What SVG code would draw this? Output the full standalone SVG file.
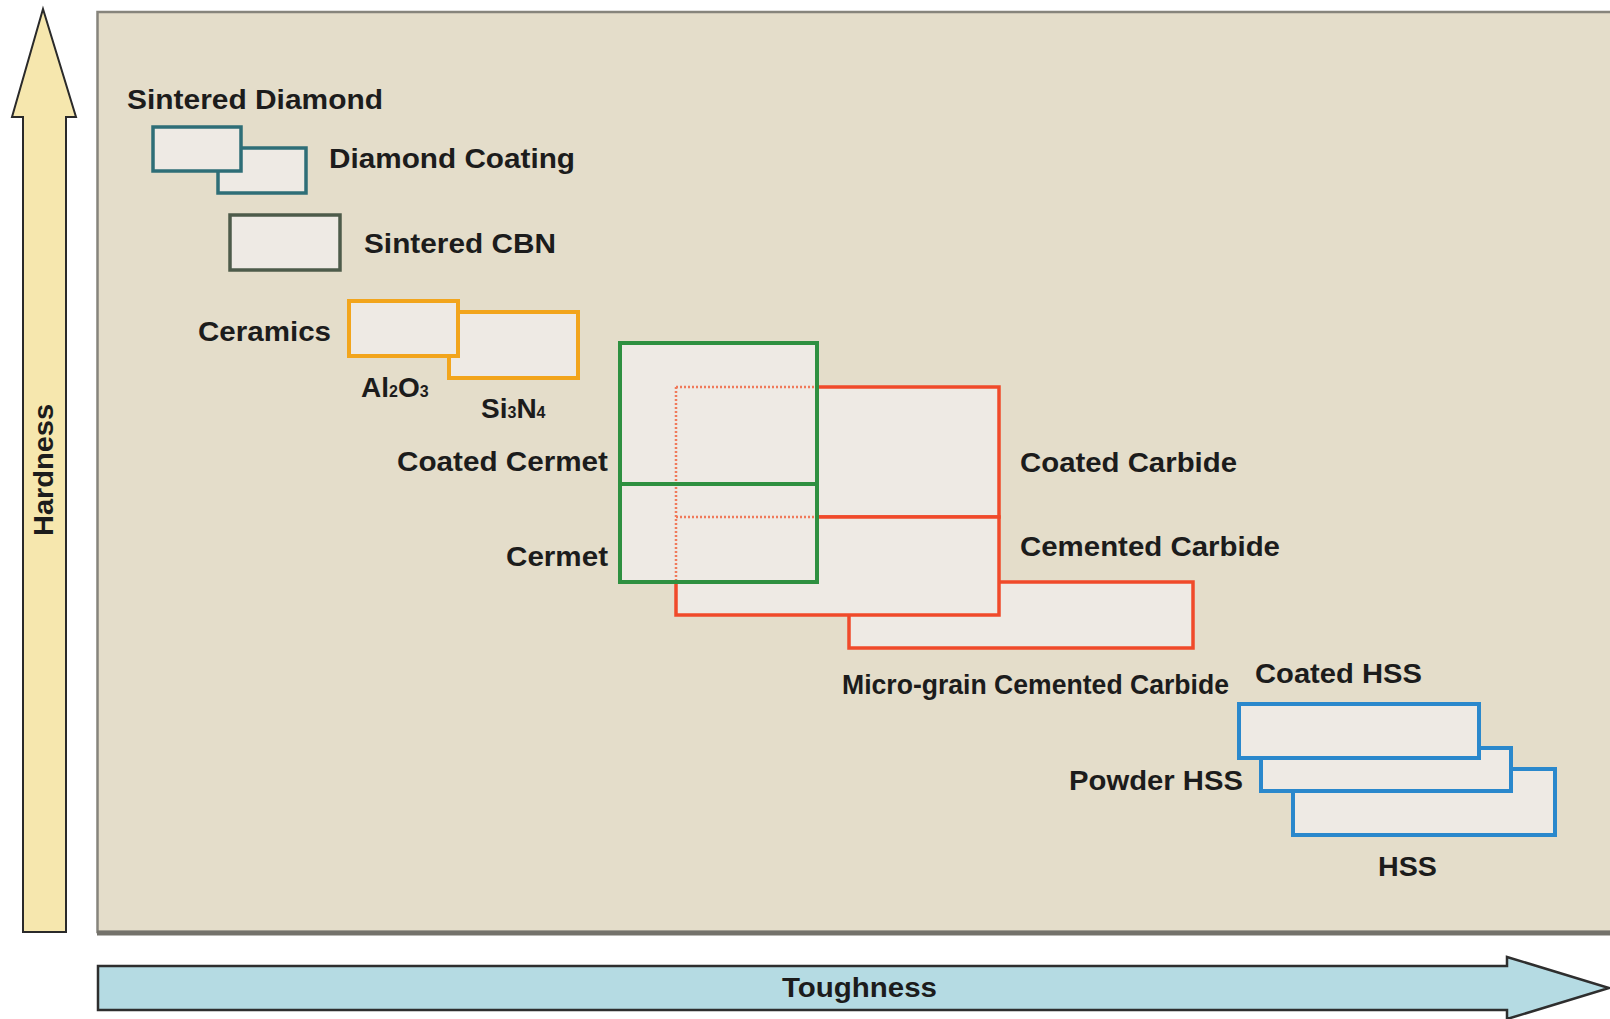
<svg xmlns="http://www.w3.org/2000/svg" width="1610" height="1019" viewBox="0 0 1610 1019">
<style>
  .t { font-family: "Liberation Sans", Arial, sans-serif; font-weight: bold; font-size: 28px; fill: #1c1c1c; }
  .sub { font-size: 16px; }
  .box { fill: #eeeae4; }
  .teal { stroke: #2e6e77; stroke-width: 3.5; }
  .cbn { stroke: #4d5b4a; stroke-width: 3.5; }
  .orange { stroke: #f2a51c; stroke-width: 4; }
  .green { stroke: #2e9040; stroke-width: 4; }
  .red { stroke: #f04a2a; stroke-width: 3.5; }
  .blue { stroke: #2a88cc; stroke-width: 4; }
  .dot { stroke: #f07a5a; stroke-width: 2.5; stroke-dasharray: 2 2; fill: none; }
</style>
<rect x="0" y="0" width="1610" height="1019" fill="#ffffff"/>

<g id="panel">
  <rect x="97.5" y="12" width="1530" height="920" fill="#e4ddca" stroke="#86847c" stroke-width="2.5"/>
  <line x1="97" y1="933" x2="1610" y2="933" stroke="#74726b" stroke-width="5"/>
</g>

<g id="axes">
  <g id="hardness-axis">
    <polygon points="43,9 76,117 66,117 66,932 23,932 23,117 12,117" fill="#f6e7ae" stroke="#2a2a2a" stroke-width="2" stroke-linejoin="miter"/>
    <text class="t" x="53" y="470" text-anchor="middle" textLength="132" lengthAdjust="spacingAndGlyphs" transform="rotate(-90 53 470)">Hardness</text>
  </g>
  <g id="toughness-axis">
    <polygon points="98,966 1507,966 1507,957 1609,988 1507,1019 1507,1010 98,1010" fill="#b5dbe3" stroke="#2e2e2e" stroke-width="2.5"/>
    <text class="t" x="782" y="997" textLength="155" lengthAdjust="spacingAndGlyphs">Toughness</text>
  </g>
</g>

<g id="connectors"></g>

<g id="diamond-coating">
  <rect class="box teal" x="218" y="148" width="88" height="45"/>
  <text class="t" x="329" y="168" textLength="246" lengthAdjust="spacingAndGlyphs">Diamond Coating</text>
</g>
<g id="sintered-diamond">
  <rect class="box teal" x="153" y="127" width="88" height="44"/>
  <text class="t" x="127" y="109" textLength="256" lengthAdjust="spacingAndGlyphs">Sintered Diamond</text>
</g>
<g id="sintered-cbn">
  <rect class="box cbn" x="230" y="215" width="110" height="55"/>
  <text class="t" x="364" y="253" textLength="192" lengthAdjust="spacingAndGlyphs">Sintered CBN</text>
</g>

<g id="si3n4">
  <rect class="box orange" x="449" y="312" width="129" height="66"/>
  <text class="t" x="481" y="418">Si<tspan class="sub">3</tspan>N<tspan class="sub">4</tspan></text>
</g>
<g id="al2o3">
  <rect class="box orange" x="349" y="301" width="109" height="55"/>
  <text class="t" x="361" y="397">Al<tspan class="sub">2</tspan>O<tspan class="sub">3</tspan></text>
</g>
<g id="ceramics">
  <text class="t" x="198" y="341" textLength="133" lengthAdjust="spacingAndGlyphs">Ceramics</text>
</g>

<g id="micro-grain-cemented-carbide">
  <rect class="box red" x="849" y="582" width="344" height="66"/>
  <text class="t" x="842" y="694" textLength="387" lengthAdjust="spacingAndGlyphs">Micro-grain Cemented Carbide</text>
</g>
<g id="coated-carbide">
  <rect class="box red" x="676" y="387" width="323" height="130"/>
  <text class="t" x="1020" y="472" textLength="217" lengthAdjust="spacingAndGlyphs">Coated Carbide</text>
</g>
<g id="cemented-carbide">
  <rect class="box red" x="676" y="517" width="323" height="98"/>
  <text class="t" x="1020" y="556" textLength="260" lengthAdjust="spacingAndGlyphs">Cemented Carbide</text>
</g>

<g id="coated-cermet">
  <rect class="box" x="620" y="343" width="197" height="141"/>
  <text class="t" x="397" y="471" textLength="211" lengthAdjust="spacingAndGlyphs">Coated Cermet</text>
</g>
<g id="cermet">
  <rect class="box" x="620" y="484" width="197" height="98"/>
  <text class="t" x="506" y="566" textLength="102" lengthAdjust="spacingAndGlyphs">Cermet</text>
</g>
<g id="carbide-hidden-edges">
  <path class="dot" d="M676,387 H817 M676,517 H817 M676,387 V582"/>
</g>
<g id="cermet-outline">
  <rect x="620" y="343" width="197" height="239" fill="none" class="green"/>
  <line x1="620" y1="484" x2="817" y2="484" class="green"/>
</g>

<g id="hss">
  <rect class="box blue" x="1293" y="769" width="262" height="66"/>
  <text class="t" x="1378" y="876" textLength="59" lengthAdjust="spacingAndGlyphs">HSS</text>
</g>
<g id="powder-hss">
  <rect class="box blue" x="1261" y="748" width="250" height="43"/>
  <text class="t" x="1069" y="790" textLength="174" lengthAdjust="spacingAndGlyphs">Powder HSS</text>
</g>
<g id="coated-hss">
  <rect class="box blue" x="1239" y="704" width="240" height="54"/>
  <text class="t" x="1255" y="683" textLength="167" lengthAdjust="spacingAndGlyphs">Coated HSS</text>
</g>
</svg>
